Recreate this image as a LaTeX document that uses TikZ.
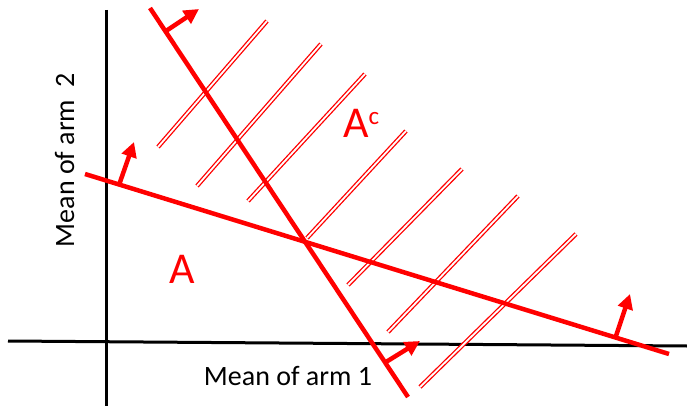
\documentclass[tikz,border=0pt]{standalone}
\usepackage{fontspec}
\setmainfont{Carlito}
\usetikzlibrary{arrows.meta}
\begin{document}
\begin{tikzpicture}[x=1pt,y=-1pt,
  axis/.style={draw=black,line width=3pt},
  bound/.style={draw=red,line width=4.5pt},
  normal/.style={draw=red,line width=4.5pt,-{Triangle[length=15pt,width=15pt]}},
  hatch/.style={draw=red,double=white,line width=1.3pt,double distance=1.8pt},
  lbl/.style={inner sep=0pt,font=\fontsize{28}{30}\selectfont},
  big/.style={inner sep=0pt,text=red,font=\fontsize{44}{46}\selectfont}]
\useasboundingbox (0,0) rectangle (687,406);
% axes
\coordinate (yt) at (106,10); \coordinate (yb) at (106,406);
\coordinate (xl) at (8,341); \coordinate (xr) at (687,346);
\draw[axis] (yt) -- (yb);
\draw[axis] (xl) -- (xr);
% hatching
\coordinate (h1a) at (158,147); \coordinate (h1b) at (267,21);
\coordinate (h2a) at (197,186); \coordinate (h2b) at (321,44);
\coordinate (h3a) at (248,201); \coordinate (h3b) at (365,74);
\coordinate (h4a) at (307,238); \coordinate (h4b) at (406,131);
\coordinate (h5a) at (348,285); \coordinate (h5b) at (462,169);
\coordinate (h6a) at (388,332); \coordinate (h6b) at (518,196);
\coordinate (h7a) at (420,387); \coordinate (h7b) at (576,234);
\foreach \i in {1,...,7}{\draw[hatch] (h\i a) -- (h\i b);}
% boundary lines
\coordinate (p1) at (150,8); \coordinate (p2) at (408,397);
\coordinate (q1) at (85,174); \coordinate (q2) at (669,354);
\draw[bound] (p1) -- (p2);
\draw[bound] (q1) -- (q2);
% normals
\coordinate (n1a) at (166,31); \coordinate (n1b) at (199,9);
\coordinate (n2a) at (386,362); \coordinate (n2b) at (420,341);
\coordinate (n3a) at (119,185); \coordinate (n3b) at (134,142);
\coordinate (n4a) at (615,339); \coordinate (n4b) at (630,294);
\draw[normal] (n1a) -- (n1b);
\draw[normal] (n2a) -- (n2b);
\draw[normal] (n3a) -- (n3b);
\draw[normal] (n4a) -- (n4b);
% labels
\node[lbl,anchor=base] (xlab) at (288,385) {Mean of arm 1};
\node[lbl,anchor=base,rotate=90] (ylab) at (74,160) {Mean of arm\ \ 2};
\node[big,anchor=base] (A) at (182,283) {A};
\node[big,anchor=base west] (Ac) at (343,138) {A\raisebox{13pt}{\fontsize{25}{25}\selectfont c}};
\end{tikzpicture}
\end{document}
